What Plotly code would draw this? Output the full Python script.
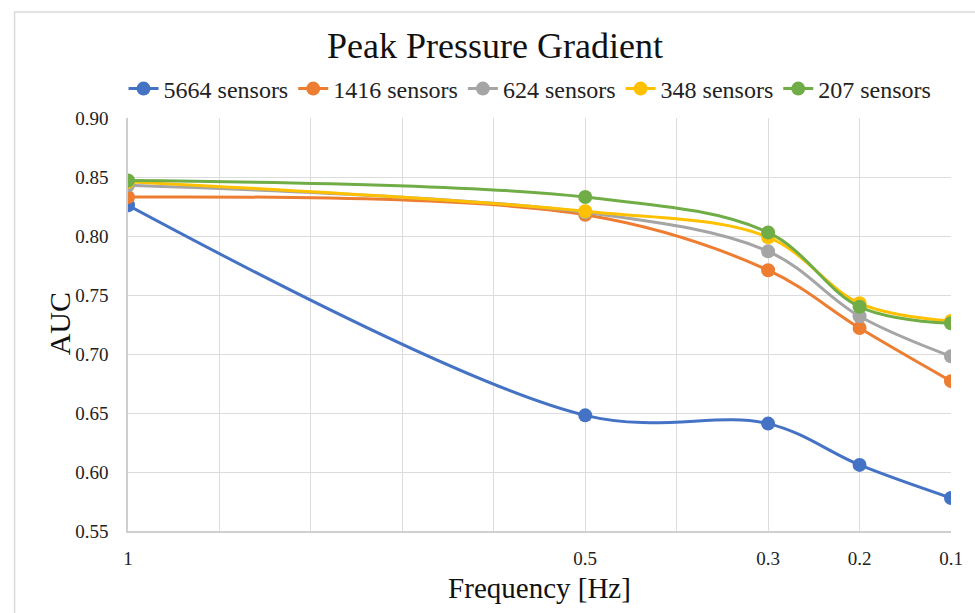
import plotly.graph_objects as go

freq = [1, 0.5, 0.3, 0.2, 0.1]
series_names = ["5664 sensors", "1416 sensors", "624 sensors", "348 sensors", "207 sensors"]
auc_5664 = [0.826, 0.648, 0.641, 0.606, 0.578]
auc_1416 = [0.833, 0.818, 0.771, 0.722, 0.677]
auc_624 = [0.843, 0.820, 0.787, 0.732, 0.698]
auc_348 = [0.846, 0.821, 0.799, 0.743, 0.728]
auc_207 = [0.847, 0.833, 0.803, 0.740, 0.726]
colors = ["#4472C4", "#ED7D31", "#A5A5A5", "#FFC000", "#70AD47"]

x_tickvals = [1, 0.9, 0.8, 0.7, 0.6, 0.5, 0.4, 0.3, 0.2, 0.1]
x_ticktext = ["1", "", "", "", "", "0.5", "", "0.3", "0.2", "0.1"]
y_tickvals = [0.55, 0.60, 0.65, 0.70, 0.75, 0.80, 0.85, 0.90]

FONT = "Liberation Serif"

fig = go.Figure()
for name, vals, c in zip(series_names, [auc_5664, auc_1416, auc_624, auc_348, auc_207], colors):
    fig.add_trace(go.Scatter(
        x=freq, y=vals, name=name, mode="lines+markers",
        line=dict(color=c, width=3, shape="spline", smoothing=1.0),
        marker=dict(color=c, size=14),
    ))

W, H = 975, 613
L, R, T, B = 128, 20, 118, 82
pw, ph = W - L - R, H - T - B

fig.update_layout(
    width=W, height=H,
    margin=dict(l=L, r=R, t=T, b=B),
    paper_bgcolor="white", plot_bgcolor="white",
    font=dict(family=FONT, color="#222222"),
    title=dict(text="Peak Pressure Gradient", x=495 / W, xref="container", xanchor="center",
               y=1 - 45 / H, yref="container", yanchor="middle",
               font=dict(size=36, family=FONT, color="#111111")),
    legend=dict(orientation="h", x=(532 - L) / pw, xanchor="center",
                y=(H - B - 89) / ph, yanchor="middle",
                font=dict(size=24, family=FONT, color="#222222"),
                itemwidth=30, tracegroupgap=0, bgcolor="rgba(0,0,0,0)"),
    xaxis=dict(range=[1, 0.1], autorange=False, tickvals=x_tickvals, ticktext=x_ticktext,
               showgrid=True, gridcolor="#dcdcdc", gridwidth=1,
               showline=True, linecolor="#cfcfcf", linewidth=1.5, zeroline=False,
               ticks="", ticklabelstandoff=9,
               tickfont=dict(size=19, family=FONT, color="#222222"),
               title=dict(text="Frequency [Hz]", standoff=10,
                          font=dict(size=29, family=FONT, color="#111111"))),
    yaxis=dict(range=[0.55, 0.90], autorange=False, tickvals=y_tickvals, tickformat=".2f",
               showgrid=True, gridcolor="#dcdcdc", gridwidth=1,
               showline=True, linecolor="#cfcfcf", linewidth=1.5, zeroline=False,
               ticks="", ticklabelstandoff=14,
               tickfont=dict(size=19, family=FONT, color="#222222")),
    showlegend=True,
)

# y-axis title placed as an annotation to sit close to the tick labels
fig.add_annotation(text="AUC", xref="paper", yref="paper",
                   x=(59 - L) / pw, y=(H - B - 324) / ph, xanchor="center", yanchor="middle",
                   textangle=-90, showarrow=False,
                   font=dict(size=30, family=FONT, color="#111111"))

# chart-area border (extends past right/bottom edges as in the reference)
fig.add_shape(type="rect", xref="paper", yref="paper",
              x0=(14 - L) / pw, x1=(W + 5 - L) / pw,
              y0=(H - B - (H + 5)) / ph, y1=(H - B - 12) / ph,
              line=dict(color="#d9d9d9", width=1.5), fillcolor="rgba(0,0,0,0)", layer="below")

fig.write_html("out.html")
